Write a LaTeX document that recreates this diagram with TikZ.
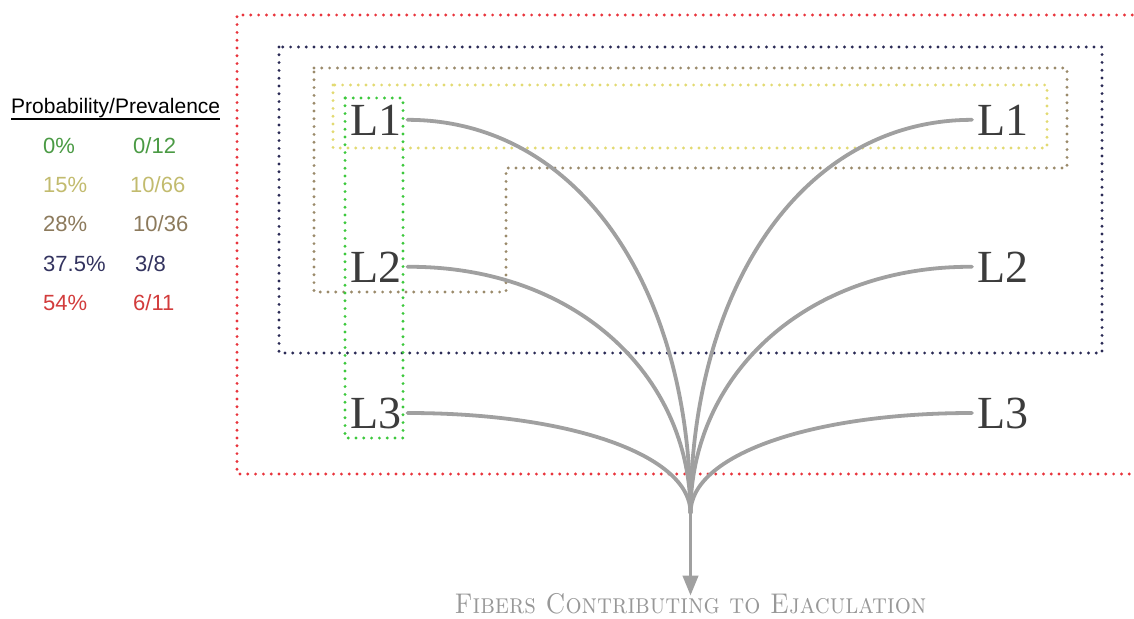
\documentclass[tikz,border=0pt]{standalone}
\usepackage{fontspec}
\usepackage{graphicx}
\usetikzlibrary{arrows.meta}
\newfontfamily\lsans{Liberation Sans}
\newfontfamily\lserif{Liberation Serif}
\definecolor{cgreen}{HTML}{4A9A44}
\definecolor{colive}{HTML}{C2BB6E}
\definecolor{cbrown}{HTML}{8C7A5C}
\definecolor{cnavy}{HTML}{33335F}
\definecolor{cred}{HTML}{D23C3C}
\definecolor{bred}{HTML}{E8343C}
\definecolor{bnavy}{HTML}{2A2A55}
\definecolor{bbrown}{HTML}{9A8A6A}
\definecolor{byellow}{HTML}{E2DA72}
\definecolor{bgreen}{HTML}{3CC83C}
\definecolor{fiber}{HTML}{A0A0A0}
\definecolor{lbl}{HTML}{3C3C3C}
\tikzset{
  dotbox/.style={line width=3.2pt, line cap=round, dash pattern=on 0pt off 7.8pt},
  lev/.style={inner sep=0pt, text=lbl, font=\lserif\fontsize{46}{46}\selectfont, anchor=base west},
  leg/.style={inner sep=0pt, font=\lsans\fontsize{22}{22}\selectfont, anchor=base west},
  fib/.style={draw=fiber, line width=3.8pt, line cap=round},
}
\begin{document}
\begin{tikzpicture}[x=1pt,y=-1pt]
\useasboundingbox (0,0) rectangle (1134,618);
% dotted grouping boxes
\draw[dotbox, bred] (1140,15) -- (237,15) -- (237,474) -- (1140,474);
\draw[dotbox, bnavy] (279,47) rectangle (1102,353);
\draw[dotbox, bbrown] (314,68) -- (1067,68) -- (1067,168) -- (506,168) -- (506,292) -- (314,292) -- cycle;
\draw[dotbox, byellow] (333,85) rectangle (1047,148);
\draw[dotbox, bgreen] (345,98) rectangle (403,438);
% legend
\node[inner sep=0pt, font=\lsans\fontsize{21}{21}\selectfont, anchor=base west] (head) at (11,113) {Probability/Prevalence};
\draw[line width=1.2pt] (head.south west |- 0,119) coordinate (ul) -- (head.south east |- 0,119) coordinate (ur);
\node[leg, text=cgreen] (p0) at (43,153) {0\%};
\node[leg, text=cgreen] (n0) at (133,153) {0/12};
\node[leg, text=colive] (p1) at (43,192) {15\%};
\node[leg, text=colive] (n1) at (130,192) {10/66};
\node[leg, text=cbrown] (p2) at (43,231) {28\%};
\node[leg, text=cbrown] (n2) at (133,231) {10/36};
\node[leg, text=cnavy] (p3) at (43,271) {37.5\%};
\node[leg, text=cnavy] (n3) at (135,271) {3/8};
\node[leg, text=cred] (p4) at (43,310) {54\%};
\node[leg, text=cred] (n4) at (133,310) {6/11};
% level labels
\node[lev] (L1l) at (350,135) {L1};
\node[lev] (L2l) at (350,282) {L2};
\node[lev] (L3l) at (350,428) {L3};
\node[lev] (L1r) at (977,135) {L1};
\node[lev] (L2r) at (977,282) {L2};
\node[lev] (L3r) at (977,428) {L3};
\coordinate (join) at (690.5,513);
\node[inner sep=0pt, anchor=base, text=fiber!95!black, font=\fontsize{28.5}{28.5}\selectfont\scshape] (title) at (690.5,613) {\scalebox{0.89}[1]{Fibers Contributing to Ejaculation}};
% fibers
\draw[fib] ([xshift=6pt]L1l.east) .. controls (580,120) and (690.5,290) .. (join);
\draw[fib] ([xshift=6pt]L2l.east) .. controls (575,266) and (690.5,375) .. (join);
\draw[fib] ([xshift=6pt]L3l.east) .. controls (570,413) and (690.5,455) .. (join);
\draw[fib] ([xshift=-5pt]L1r.west) .. controls (801,120) and (690.5,290) .. (join);
\draw[fib] ([xshift=-5pt]L2r.west) .. controls (806,266) and (690.5,375) .. (join);
\draw[fib] ([xshift=-5pt]L3r.west) .. controls (811,413) and (690.5,455) .. (join);
\draw[draw=fiber, line width=3.8pt, -{Triangle[length=20pt,width=15pt]}, fill=fiber] (join) -- ([yshift=-3pt]title.north);
\end{tikzpicture}
\end{document}
